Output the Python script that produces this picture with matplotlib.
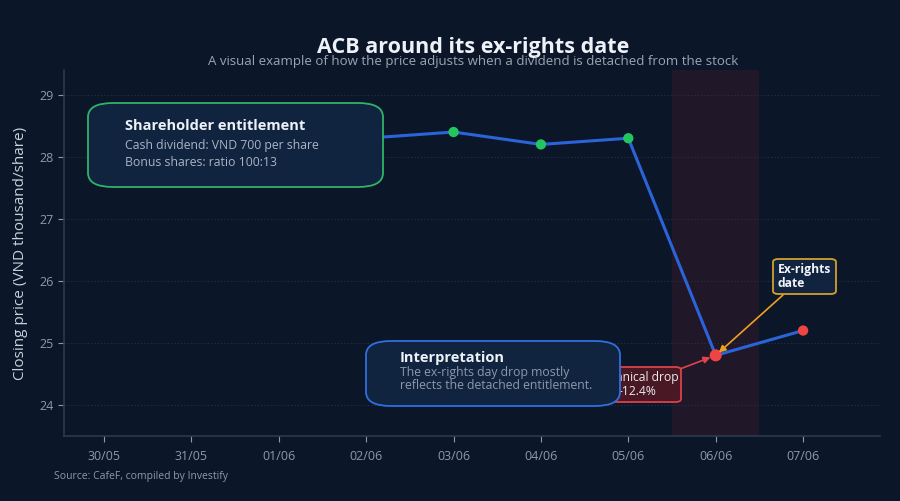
import datetime as dt
import matplotlib
matplotlib.use('Agg')
import matplotlib.pyplot as plt
import matplotlib.dates as mdates
from matplotlib.patches import FancyBboxPatch

plt.rcParams['font.family'] = ['Open Sans', 'DejaVu Sans']

# data
dates = ['2025-06-02', '2025-06-03', '2025-06-04', '2025-06-05', '2025-06-06', '2025-06-07']
close = [28.3, 28.4, 28.2, 28.3, 24.8, 25.2]
phase = ['before', 'before', 'before', 'before', 'after', 'after']
tick_dates = ['2025-05-30', '2025-05-31', '2025-06-01', '2025-06-02', '2025-06-03',
              '2025-06-04', '2025-06-05', '2025-06-06', '2025-06-07']
ex_date = '2025-06-06'
drop_pct = (close[4] / close[3] - 1) * 100

BG = '#0b1628'
BOX = '#10233f'
W, H = 900, 501

x = [dt.datetime.strptime(d, '%Y-%m-%d') for d in dates]
xt = [dt.datetime.strptime(d, '%Y-%m-%d') for d in tick_dates]
xe = dt.datetime.strptime(ex_date, '%Y-%m-%d')
day = dt.timedelta(days=1)


def fx(px):
    return px / W


def fy(py):
    return 1 - py / H


fig = plt.figure(figsize=(9, 5.01), dpi=100, facecolor=BG)
ax = fig.add_axes([fx(64), fy(436), fx(880) - fx(64), fy(70) - fy(436)], facecolor=BG)

ax.axvspan(xe - day / 2, xe + day / 2, color='#3a1a2c', alpha=0.45, lw=0, zorder=0)
ax.plot(x, close, color='#2b63d9', lw=2.2, zorder=3)
cols = ['#22c55e' if p == 'before' else '#ef4444' for p in phase]
sizes = [55, 55, 55, 55, 75, 55]
ax.scatter(x, close, s=sizes, c=cols, zorder=4, edgecolors='none')

ax.set_xlim(xt[0] - 0.458 * day, xt[-1] + 0.88 * day)
ax.set_ylim(23.5, 29.4)
ax.set_xticks(xt)
ax.xaxis.set_major_formatter(mdates.DateFormatter('%d/%m'))
ax.set_yticks([24, 25, 26, 27, 28, 29])
ax.tick_params(colors='#8e99a8', labelsize=9, length=4, width=0.8)
ax.tick_params(axis='x', pad=6)
ax.yaxis.grid(True, color='#243349', lw=0.8, ls=(0, (1, 2)))
for s in ['top', 'right']:
    ax.spines[s].set_visible(False)
for s in ['left', 'bottom']:
    ax.spines[s].set_color('#2c3a4e')
    ax.spines[s].set_linewidth(1.2)
ax.set_ylabel('Closing price (VND thousand/share)', color='#c9d1dc', fontsize=11, labelpad=8)

fig.text(fx(473), fy(47), 'ACB around its ex-rights date', ha='center', va='center',
         fontsize=15.5, fontweight='bold', color='#eef2f8')
fig.text(fx(473), fy(62), 'A visual example of how the price adjusts when a dividend is detached from the stock',
         ha='center', va='center', fontsize=9.5, color='#9aa5b5')
fig.text(fx(54), fy(477), 'Source: CafeF, compiled by Investify', ha='left', va='center',
         fontsize=7.5, color='#8e99a8')


def box(x0, y0, x1, y1, edge, face, r, z):
    p = FancyBboxPatch((fx(x0), fy(y1)), fx(x1) - fx(x0), fy(y0) - fy(y1),
                       boxstyle='round,pad=0,rounding_size=%f' % (r / H),
                       transform=fig.transFigure, fc=face, ec=edge, lw=1.3, zorder=z)
    fig.patches.append(p)
    return p


# ex-rights date callout
box(773, 259, 836, 294, '#d4a02a', BOX, 3, 5)
fig.text(fx(778), fy(276.5), 'Ex-rights\ndate', ha='left', va='center', fontsize=8.7,
         fontweight='bold', color='#f1f4f8', linespacing=1.05, zorder=6)
ax.annotate('', xy=(xe, close[4]), xytext=(fx(783), fy(295)), textcoords='figure fraction',
            arrowprops=dict(arrowstyle='-|>', color='#f0a020', lw=1.2, mutation_scale=10,
                            shrinkA=0, shrinkB=3), zorder=6)

# technical drop callout (partly hidden behind the interpretation box)
box(593, 367, 681, 402, '#d9434b', '#4a1824', 3, 5)
fig.text(fx(637), fy(384.5), 'Technical drop\n%.1f%%' % drop_pct, ha='center', va='center',
         fontsize=8.7, color='#e8ebf0', linespacing=1.1, zorder=6)
ax.annotate('', xy=(xe, close[4]), xytext=(fx(680), fy(369)), textcoords='figure fraction',
            arrowprops=dict(arrowstyle='-|>', color='#e0444c', lw=1.2, mutation_scale=10,
                            shrinkA=0, shrinkB=4), zorder=6)

# shareholder entitlement box
box(88, 103, 383, 187, '#2fb36b', BOX, 14, 7)
fig.text(fx(125), fy(126), 'Shareholder entitlement', ha='left', va='center', fontsize=10.5,
         fontweight='bold', color='#eef2f8', zorder=8)
fig.text(fx(125), fy(146), 'Cash dividend: VND 700 per share', ha='left', va='center',
         fontsize=8.8, color='#aab4c3', zorder=8)
fig.text(fx(125), fy(162), 'Bonus shares: ratio 100:13', ha='left', va='center',
         fontsize=8.8, color='#aab4c3', zorder=8)

# interpretation box
box(366, 341, 620, 406, '#2f6fe0', BOX, 14, 7)
fig.text(fx(400), fy(358), 'Interpretation', ha='left', va='center', fontsize=10.5,
         fontweight='bold', color='#eef2f8', zorder=8)
fig.text(fx(400), fy(379), 'The ex-rights day drop mostly\nreflects the detached entitlement.',
         ha='left', va='center', fontsize=8.8, color='#8d99ab', linespacing=0.95, zorder=8)

fig.savefig('out.png', dpi=100, facecolor=BG)
